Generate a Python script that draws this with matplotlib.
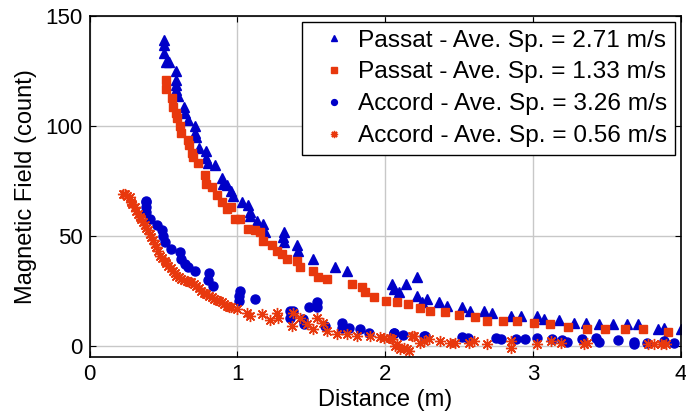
import matplotlib
matplotlib.use("Agg")
import matplotlib.pyplot as plt

plt.rcParams["font.family"] = ["Liberation Sans", "DejaVu Sans"]

BLUE = "#0000C8"
RED = "#E8380D"

# Passat, average speed 2.71 m/s (triangles)
passat_fast_x = [0.504, 0.504, 0.504, 0.515, 0.538, 0.588, 0.588, 0.585, 0.588, 0.599,
                 0.640, 0.644, 0.667, 0.712, 0.712, 0.719, 0.741, 0.791, 0.791, 0.802,
                 0.847, 0.893, 0.904, 0.927, 0.960, 0.972, 1.033, 1.073, 1.085, 1.085,
                 1.130, 1.170, 1.186, 1.315, 1.310, 1.315, 1.401, 1.412, 1.514, 1.661,
                 1.740, 2.045, 2.056, 2.090, 2.142, 2.215, 2.215, 2.249, 2.280, 2.362,
                 2.418, 2.520, 2.576, 2.667, 2.723, 2.847, 2.915, 3.028, 3.073, 3.175,
                 3.277, 3.356, 3.446, 3.537, 3.638, 3.706, 3.842, 3.887, 4.000]
passat_fast_y = [139.3, 137.0, 133.0, 129.0, 129.0, 124.8, 121.0, 118.7, 116.4, 113.4,
                 108.8, 105.8, 102.7, 100.0, 96.7, 95.0, 89.8, 88.7, 85.3, 83.0,
                 82.2, 76.5, 73.5, 73.0, 70.5, 68.0, 65.5, 63.9, 60.9, 58.9,
                 57.0, 55.5, 51.7, 51.7, 49.5, 47.2, 45.7, 43.4, 39.6, 36.0,
                 34.2, 28.2, 25.9, 24.4, 28.2, 31.2, 22.8, 19.8, 21.3, 19.8,
                 18.3, 17.5, 16.0, 16.0, 15.2, 13.7, 13.7, 13.7, 12.2, 11.7,
                 10.6, 10.6, 9.9, 9.9, 9.9, 9.9, 7.6, 8.4, 7.6]

# Passat, average speed 1.33 m/s (squares)
passat_slow_x = [0.515, 0.515, 0.561, 0.565, 0.588, 0.592, 0.615, 0.622, 0.667, 0.673,
                 0.696, 0.700, 0.734, 0.780, 0.791, 0.825, 0.859, 0.893, 0.927, 0.960,
                 0.983, 1.017, 1.073, 1.119, 1.153, 1.175, 1.232, 1.266, 1.300, 1.333,
                 1.401, 1.424, 1.514, 1.548, 1.605, 1.774, 1.842, 1.864, 1.921, 2.007,
                 2.079, 2.151, 2.237, 2.305, 2.407, 2.502, 2.610, 2.689, 2.798, 2.888,
                 3.006, 3.114, 3.239, 3.363, 3.487, 3.623, 3.744, 3.910]
passat_slow_y = [121.0, 116.7, 112.6, 108.8, 105.8, 103.5, 100.0, 96.7, 93.6, 91.3,
                 87.5, 86.0, 83.0, 77.6, 73.8, 72.3, 68.5, 65.4, 62.4, 63.2,
                 57.8, 57.8, 53.3, 52.5, 51.7, 47.9, 45.7, 43.4, 41.9, 39.6,
                 38.8, 35.8, 34.2, 31.2, 30.4, 28.2, 26.6, 24.4, 22.1, 20.5,
                 19.8, 19.0, 17.2, 16.0, 15.5, 14.0, 13.4, 11.4, 11.4, 11.4,
                 10.4, 9.9, 8.8, 7.6, 7.6, 7.6, 7.6, 6.4]

# Accord, average speed 3.26 m/s (circles)
accord_fast_x = [0.384, 0.384, 0.384, 0.384, 0.407, 0.459, 0.493, 0.497, 0.508, 0.554,
                 0.610, 0.622, 0.644, 0.667, 0.712, 0.809, 0.802, 0.836, 1.017, 1.010,
                 1.010, 1.119, 1.356, 1.356, 1.378, 1.446, 1.453, 1.487, 1.537, 1.540,
                 1.593, 1.706, 1.706, 1.758, 1.831, 1.887, 2.056, 2.061, 2.120, 2.260,
                 2.271, 2.520, 2.558, 2.746, 2.780, 2.881, 2.942, 3.024, 3.130, 3.198,
                 3.227, 3.333, 3.424, 3.447, 3.575, 3.684, 3.684, 3.767, 3.887, 3.955]
accord_fast_y = [66.0, 65.4, 63.2, 60.9, 57.8, 54.8, 52.5, 50.2, 47.2, 44.1,
                 42.6, 39.6, 37.3, 35.8, 34.2, 33.0, 30.0, 27.4, 25.1, 22.8,
                 20.5, 21.3, 16.0, 12.9, 16.0, 12.2, 9.9, 17.5, 19.8, 17.5,
                 9.1, 10.6, 8.4, 8.4, 7.6, 6.1, 6.1, 6.1, 5.0, 4.6,
                 4.6, 4.1, 3.5, 3.8, 3.1, 3.1, 3.1, 3.5, 3.1, 2.6,
                 2.0, 3.1, 3.5, 2.0, 2.7, 2.0, 0.8, 1.5, 2.3, 1.5]

# Accord, average speed 0.56 m/s (asterisks)
accord_slow_x = [0.226, 0.237, 0.255, 0.271, 0.282, 0.290, 0.305, 0.315, 0.328, 0.340,
                 0.350, 0.362, 0.373, 0.385, 0.396, 0.408, 0.418, 0.430, 0.441, 0.452,
                 0.463, 0.475, 0.490, 0.508, 0.520, 0.531, 0.548, 0.565, 0.575, 0.588,
                 0.605, 0.622, 0.640, 0.656, 0.672, 0.689, 0.705, 0.723, 0.740, 0.757,
                 0.775, 0.791, 0.808, 0.825, 0.842, 0.859, 0.876, 0.893, 0.910, 0.927,
                 0.945, 0.960, 0.994, 1.062, 1.085, 1.164, 1.220, 1.266, 1.277, 1.367,
                 1.378, 1.424, 1.469, 1.514, 1.537, 1.582, 1.605, 1.672, 1.740, 1.808,
                 1.898, 1.966, 1.989, 2.034, 2.045, 2.068, 2.079, 2.102, 2.124, 2.147,
                 2.158, 2.181, 2.192, 2.237, 2.260, 2.294, 2.373, 2.441, 2.475, 2.565,
                 2.599, 2.689, 2.847, 2.847, 3.028, 3.119, 3.186, 3.345, 3.367, 3.774,
                 3.819, 3.864, 3.898]
accord_slow_y = [68.9, 69.3, 68.0, 67.7, 65.4, 64.5, 63.2, 61.5, 60.1, 58.8,
                 57.8, 56.2, 54.8, 53.5, 52.5, 51.0, 49.5, 48.0, 46.4, 45.0,
                 43.4, 41.1, 40.0, 38.8, 37.5, 36.5, 35.4, 34.2, 33.0, 32.0,
                 31.2, 30.4, 30.0, 29.7, 29.3, 28.9, 28.2, 27.4, 26.2, 25.1,
                 24.3, 23.6, 22.8, 22.1, 21.5, 20.9, 20.3, 19.8, 19.0, 18.3,
                 17.9, 17.5, 16.7, 15.2, 13.7, 14.5, 11.7, 15.2, 12.9, 9.1,
                 15.2, 12.9, 9.9, 7.6, 12.9, 10.6, 6.8, 5.3, 5.3, 4.6,
                 4.6, 4.1, 3.8, 3.8, 3.1, 0.0, 0.8, -1.5, -0.8, -1.5,
                 -2.3, 4.6, 4.6, 1.5, 2.3, 3.1, 2.3, 1.5, 1.5, 1.5,
                 2.3, 0.8, 2.3, -0.8, 0.8, 2.3, 1.5, 0.8, 1.5, 0.8,
                 0.8, 0.8, 0.8]

x_ticks = [0, 1, 2, 3, 4]
y_ticks = [0, 50, 100, 150]


def main():
    fig = plt.figure(figsize=(6.86, 4.15), dpi=100)
    ax = fig.add_axes([0.1305, 0.1398, 0.8622, 0.8217])

    ax.plot(passat_fast_x, passat_fast_y, "^", color=BLUE, ms=7.5, mec=BLUE,
            label="Passat - Ave. Sp. = 2.71 m/s")
    ax.plot(passat_slow_x, passat_slow_y, "s", color=RED, ms=6, mec=RED,
            label="Passat - Ave. Sp. = 1.33 m/s")
    ax.plot(accord_fast_x, accord_fast_y, "o", color=BLUE, ms=6.5, mec=BLUE,
            label="Accord - Ave. Sp. = 3.26 m/s")
    ax.plot(accord_slow_x, accord_slow_y, ls="none", marker=(8, 2, 0), color=RED,
            ms=8, mew=1.0, label="Accord - Ave. Sp. = 0.56 m/s")

    ax.set_xlim(0, 4)
    ax.set_ylim(-5, 150)
    ax.set_xticks(x_ticks)
    ax.set_yticks(y_ticks)
    ax.grid(True, color="#C8C8C8", lw=1.0)
    ax.set_axisbelow(True)
    ax.tick_params(direction="in", top=True, right=True, length=4, labelsize=16, pad=5)
    for s in ax.spines.values():
        s.set_linewidth(1.2)

    ax.set_xlabel("Distance (m)", fontsize=17, labelpad=3)
    ax.set_ylabel("Magnetic Field (count)", fontsize=17, labelpad=6)

    leg = ax.legend(loc="upper right", fontsize=17.6, markerscale=0.65, fancybox=False,
                    framealpha=1, edgecolor="black", borderaxespad=0.25,
                    labelspacing=0.4, handlelength=2.0, handletextpad=0.0,
                    borderpad=0.3)
    leg.get_frame().set_linewidth(1.0)

    fig.savefig("out.png", dpi=100)
    plt.close(fig)


if __name__ == "__main__":
    main()
